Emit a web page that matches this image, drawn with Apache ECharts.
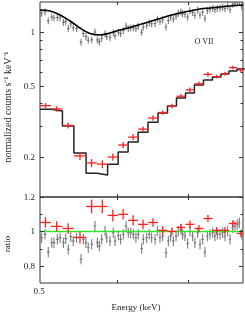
<!DOCTYPE html>
<html><head><meta charset="utf-8">
<script src="https://cdn.jsdelivr.net/npm/echarts@6/dist/echarts.min.js"></script>
<style>html,body{margin:0;padding:0;background:#fff}#c{width:245px;height:313px}</style>
</head><body><div id="c"></div>
<script>
// ---- data (energy in keV) ----
const redBinEdges = [0.5, 0.5068, 0.5140, 0.5213, 0.5292, 0.5364, 0.5434, 0.5505, 0.5573, 0.5642, 0.5711, 0.5782, 0.5850, 0.5915, 0.5981, 0.6047, 0.6115, 0.6183, 0.6248, 0.6310, 0.6372, 0.6435];
const redModel  = [0.371, 0.362, 0.2985, 0.211, 0.163, 0.159, 0.183, 0.2136, 0.243, 0.276, 0.314, 0.353, 0.386, 0.428, 0.456, 0.506, 0.539, 0.560, 0.583, 0.605, 0.621];
const redCounts = [0.388, 0.372, 0.301, 0.2035, 0.186, 0.183, 0.2005, 0.234, 0.259, 0.287, 0.331, 0.3555, 0.386, 0.438, 0.475, 0.514, 0.580, 0.564, 0.586, 0.633, 0.614];
const redCountsErr = [0.035, 0.035, 0.04, 0.05, 0.05, 0.05, 0.045, 0.04, 0.04, 0.035, 0.035, 0.03, 0.03, 0.03, 0.03, 0.03, 0.03, 0.025, 0.025, 0.025, 0.025];
const redRatio = [1.052, 1.029, 1.017, 0.965, 1.145, 1.145, 1.093, 1.099, 1.064, 1.041, 1.052, 1.006, 1.0, 1.023, 1.041, 1.017, 1.075, 1.006, 1.006, 1.046, 0.988];
const redRatioErr = [0.03, 0.03, 0.03, 0.035, 0.04, 0.04, 0.035, 0.03, 0.03, 0.028, 0.025, 0.025, 0.022, 0.022, 0.022, 0.02, 0.02, 0.02, 0.02, 0.02, 0.02];

const modelEnergy = [0.5, 0.5062, 0.5125, 0.5188, 0.5252, 0.5317, 0.5383, 0.5450, 0.5517, 0.5586, 0.5655, 0.5725, 0.5796, 0.5867, 0.5940, 0.6014, 0.6088, 0.6163, 0.6240, 0.6317, 0.6421];
const modelCounts = [1.327, 1.310, 1.245, 1.152, 1.053, 0.981, 0.962, 0.987, 1.026, 1.060, 1.101, 1.145, 1.190, 1.236, 1.277, 1.310, 1.345, 1.362, 1.379, 1.397, 1.415];

const grayEnergy = [0.5010, 0.5031, 0.5051, 0.5073, 0.5087, 0.5108, 0.5125, 0.5146, 0.5161, 0.5177, 0.5193, 0.5209, 0.5231, 0.5259, 0.5274, 0.5291, 0.5306, 0.5329, 0.5350, 0.5366, 0.5379, 0.5395, 0.5417, 0.5428, 0.5450, 0.5472, 0.5484, 0.5506, 0.5522, 0.5540, 0.5559, 0.5574, 0.5591, 0.5609, 0.5627, 0.5643, 0.5667, 0.5678, 0.5702, 0.5720, 0.5737, 0.5761, 0.5777, 0.5796, 0.5815, 0.5839, 0.5856, 0.5873, 0.5892, 0.5912, 0.5928, 0.5948, 0.5960, 0.5977, 0.5997, 0.6014, 0.6034, 0.6051, 0.6072, 0.6089, 0.6109, 0.6126, 0.6144, 0.6164, 0.6185, 0.6202, 0.6220, 0.6241, 0.6261, 0.6279, 0.6300, 0.6318, 0.6339, 0.6357, 0.6375, 0.6391, 0.6410];
const grayCounts = [1.275, 1.296, 1.155, 1.213, 1.199, 1.205, 1.199, 1.134, 1.142, 1.047, 1.110, 1.056, 1.046, 0.877, 0.982, 0.943, 0.899, 0.905, 1.001, 0.903, 0.881, 0.922, 0.977, 0.943, 0.932, 0.992, 0.951, 0.996, 0.981, 1.019, 1.078, 1.046, 1.054, 1.056, 1.045, 1.075, 0.997, 1.065, 1.088, 1.123, 1.110, 1.114, 1.180, 1.146, 1.170, 1.067, 1.159, 1.206, 1.180, 1.227, 1.273, 1.295, 1.264, 1.259, 1.211, 1.313, 1.283, 1.239, 1.326, 1.244, 1.288, 1.192, 1.320, 1.339, 1.356, 1.334, 1.351, 1.356, 1.373, 1.351, 1.396, 1.333, 1.430, 1.448, 1.465, 1.481, 1.390];
const grayRatio = [0.963, 0.983, 0.880, 0.934, 0.934, 0.954, 0.963, 0.934, 0.958, 0.896, 0.969, 0.944, 0.963, 0.838, 0.954, 0.934, 0.905, 0.925, 1.031, 0.934, 0.915, 0.954, 1.002, 0.963, 0.944, 0.992, 0.944, 0.977, 0.954, 0.983, 1.031, 0.992, 0.992, 0.983, 0.963, 0.983, 0.900, 0.954, 0.963, 0.983, 0.963, 0.954, 1.002, 0.963, 0.973, 0.876, 0.944, 0.973, 0.944, 0.973, 1.002, 1.012, 0.983, 0.973, 0.930, 1.002, 0.973, 0.934, 0.992, 0.925, 0.954, 0.880, 0.973, 0.983, 0.992, 0.973, 0.983, 0.983, 0.992, 0.973, 1.002, 0.954, 1.021, 1.031, 1.041, 1.050, 0.983];
const grayCountsRelErr = 0.045;
const grayRatioErr = 0.03;
const grayHalfWidth = 0.0009;
const ratioUnity = 1;

// ---- ticks & labels ----
const xMin = 0.5, xMax = 0.642;
const yTopMin = 0.12, yTopMax = 1.47;
const yRatioMin = 0.7, yRatioMax = 1.2;
const xTickValues = [0.55, 0.6];
const xTickLabels = [{v: 0.5, t: '0.5'}];
const yTopMajor = [{v: 0.2, t: '0.2'}, {v: 0.5, t: '0.5'}, {v: 1, t: '1'}];
const yTopMinor = [0.3, 0.4, 0.6, 0.7, 0.8, 0.9];
const yRatioMajor = [{v: 0.8, t: '0.8'}, {v: 1, t: '1'}, {v: 1.2, t: '1.2'}];
const yRatioMinor = [0.9, 1.1];

const FONT = 'Liberation Serif';
const chart = echarts.init(document.getElementById('c'), null, {renderer: 'canvas'});

function crossItem(color, width) {
  return function (params, api) {
    const x = api.value(0), y = api.value(1);
    const c = api.coord([x, y]);
    const l = api.coord([api.value(2), y]);
    const r = api.coord([api.value(3), y]);
    const b = api.coord([x, api.value(4)]);
    const t = api.coord([x, api.value(5)]);
    const st = {stroke: color, lineWidth: width};
    return {type: 'group', children: [
      {type: 'line', shape: {x1: l[0], y1: c[1], x2: r[0], y2: c[1]}, style: st},
      {type: 'line', shape: {x1: c[0], y1: b[1], x2: c[0], y2: t[1]}, style: st}
    ]};
  };
}

const redCrossTop = redCounts.map((v, i) => {
  const lo = redBinEdges[i], hi = redBinEdges[i + 1];
  return [Math.sqrt(lo * hi), v, lo, hi, v * (1 - redCountsErr[i]), v * (1 + redCountsErr[i])];
});
const redCrossRatio = redRatio.map((v, i) => {
  const lo = redBinEdges[i], hi = redBinEdges[i + 1];
  return [Math.sqrt(lo * hi), v, lo, hi, v - redRatioErr[i], v + redRatioErr[i]];
});
const grayCrossTop = grayCounts.map((v, i) => [grayEnergy[i], v, grayEnergy[i] - grayHalfWidth, grayEnergy[i] + grayHalfWidth, v * (1 - grayCountsRelErr), v * (1 + grayCountsRelErr)]);
const grayCrossRatio = grayRatio.map((v, i) => [grayEnergy[i], v, grayEnergy[i] - grayHalfWidth, grayEnergy[i] + grayHalfWidth, v - grayRatioErr, v + grayRatioErr]);
const stepData = redBinEdges.map((e, i) => [e, redModel[Math.min(i, redModel.length - 1)]]);
const modelData = modelEnergy.map((e, i) => [e, modelCounts[i]]);

const hiddenAxis = {axisLine: {show: false}, axisTick: {show: false}, axisLabel: {show: false}, splitLine: {show: false}};

chart.setOption({
  animation: false,
  backgroundColor: '#fff',
  grid: [
    {left: 40, top: 2, width: 203, height: 195, show: true, borderColor: '#333', borderWidth: 1, backgroundColor: 'transparent'},
    {left: 40, top: 197, width: 203, height: 86, show: true, borderColor: '#333', borderWidth: 1, backgroundColor: 'transparent'}
  ],
  xAxis: [
    Object.assign({type: 'log', logBase: 10, min: xMin, max: xMax, gridIndex: 0}, hiddenAxis),
    Object.assign({type: 'log', logBase: 10, min: xMin, max: xMax, gridIndex: 1}, hiddenAxis)
  ],
  yAxis: [
    Object.assign({type: 'log', logBase: 10, min: yTopMin, max: yTopMax, gridIndex: 0}, hiddenAxis),
    Object.assign({type: 'value', min: yRatioMin, max: yRatioMax, gridIndex: 1}, hiddenAxis)
  ],
  series: [
    {type: 'custom', xAxisIndex: 0, yAxisIndex: 0, renderItem: crossItem('#6e6e6e', 1), data: grayCrossTop, clip: true, z: 2},
    {type: 'line', xAxisIndex: 0, yAxisIndex: 0, data: modelData, smooth: 0.35, showSymbol: false, symbol: 'none',
      lineStyle: {color: '#000', width: 1.6}, z: 3, silent: true},
    {type: 'line', xAxisIndex: 0, yAxisIndex: 0, data: stepData, step: 'end', showSymbol: false, symbol: 'none',
      lineStyle: {color: '#222', width: 1.5}, z: 3, silent: true},
    {type: 'custom', xAxisIndex: 0, yAxisIndex: 0, renderItem: crossItem('#ff2020', 1.3), data: redCrossTop, clip: true, z: 4},
    {type: 'custom', xAxisIndex: 1, yAxisIndex: 1, renderItem: crossItem('#6e6e6e', 1), data: grayCrossRatio, clip: true, z: 2},
    {type: 'line', xAxisIndex: 1, yAxisIndex: 1, data: [[xMin, ratioUnity], [xMax, ratioUnity]], showSymbol: false, symbol: 'none',
      lineStyle: {color: '#2ee82e', width: 1.5}, z: 3, silent: true},
    {type: 'custom', xAxisIndex: 1, yAxisIndex: 1, renderItem: crossItem('#ff2020', 1.3), data: redCrossRatio, clip: true, z: 4}
  ]
});

// ---- ticks and labels via the library's coordinate conversion ----
const g = [];
const tickStyle = {stroke: '#333', lineWidth: 1};
const grids = [
  {idx: 0, top: 2, bottom: 197, left: 40, right: 243, yMajor: yTopMajor, yMinor: yTopMinor, yFromAxis: (v) => chart.convertToPixel({gridIndex: 0}, [xMin, v])[1]},
  {idx: 1, top: 197, bottom: 283, left: 40, right: 243, yMajor: yRatioMajor, yMinor: yRatioMinor, yFromAxis: (v) => chart.convertToPixel({gridIndex: 1}, [xMin, v])[1]}
];
const txt = (x, y, text, align, vAlign, size, rot) => ({type: 'text', x: x, y: y, rotation: rot || 0,
  style: {text: text, fill: '#222', font: size + 'px "' + FONT + '"', textAlign: align, textVerticalAlign: vAlign}, z: 10});
grids.forEach(gr => {
  xTickValues.forEach(v => {
    const px = Math.round(chart.convertToPixel({gridIndex: gr.idx}, [v, 1])[0]) + 0.5;
    g.push({type: 'line', shape: {x1: px, y1: gr.top, x2: px, y2: gr.top + 3}, style: tickStyle, z: 10});
    g.push({type: 'line', shape: {x1: px, y1: gr.bottom, x2: px, y2: gr.bottom - 3}, style: tickStyle, z: 10});
  });
  gr.yMajor.forEach(m => {
    const py = Math.round(gr.yFromAxis(m.v)) + 0.5;
    g.push({type: 'line', shape: {x1: gr.left, y1: py, x2: gr.left + 4, y2: py}, style: tickStyle, z: 10});
    g.push({type: 'line', shape: {x1: gr.right, y1: py, x2: gr.right - 4, y2: py}, style: tickStyle, z: 10});
    g.push(txt(gr.left - 5, py, m.t, 'right', 'middle', 9));
  });
  gr.yMinor.forEach(v => {
    const py = Math.round(gr.yFromAxis(v)) + 0.5;
    g.push({type: 'line', shape: {x1: gr.left, y1: py, x2: gr.left + 2.5, y2: py}, style: tickStyle, z: 10});
    g.push({type: 'line', shape: {x1: gr.right, y1: py, x2: gr.right - 2.5, y2: py}, style: tickStyle, z: 10});
  });
});
xTickLabels.forEach(m => {
  const px = chart.convertToPixel({gridIndex: 1}, [m.v, 1])[0];
  g.push(txt(px - 1, 287, m.t, 'center', 'top', 9));
});
g.push(txt(136, 308, 'Energy (keV)', 'center', 'middle', 9));
g.push(txt(8, 244, 'ratio', 'center', 'middle', 9, Math.PI / 2));
g.push(txt(8, 107, 'normalized counts s\u207B\u00B9 keV\u207B\u00B9', 'center', 'middle', 10, Math.PI / 2));
g.push(txt(204, 42, 'O VII', 'center', 'middle', 8));
chart.setOption({graphic: g});
</script>
</body></html>
